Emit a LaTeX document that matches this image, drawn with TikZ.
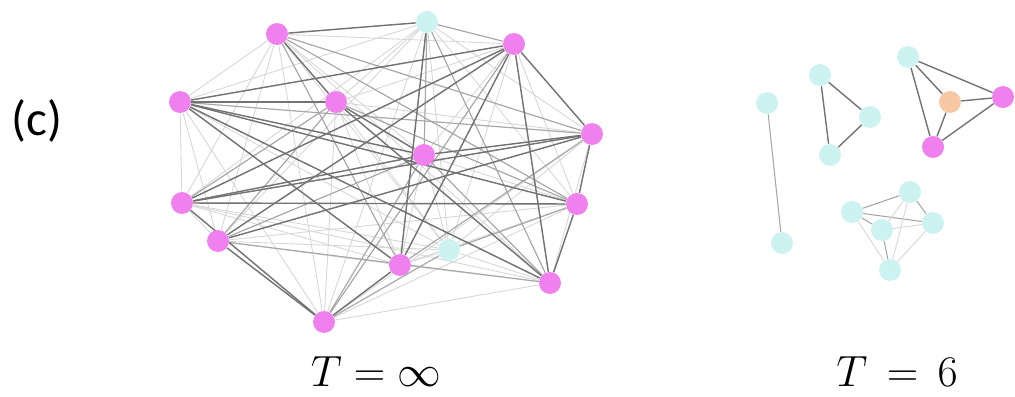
\documentclass[tikz,border=0pt]{standalone}
\usepackage{fontspec}
\newfontfamily\labelfont{Carlito}
\usepackage{tikz}
\usetikzlibrary{backgrounds}

\definecolor{vio}{RGB}{240,128,238}
\definecolor{aqua}{RGB}{204,242,242}
\definecolor{peach}{RGB}{246,200,164}

\tikzset{
  vnode/.style={circle,fill=vio,minimum size=0.44cm,inner sep=0pt},
  cnode/.style={circle,fill=aqua,minimum size=0.44cm,inner sep=0pt},
  onode/.style={circle,fill=peach,minimum size=0.44cm,inner sep=0pt},
  faint/.style={black!16,line width=0.5pt},
  strong/.style={black!55,line width=0.8pt},
  mid/.style={black!35,line width=0.6pt}
}

\begin{document}
\begin{tikzpicture}[x=0.02cm,y=-0.02cm]
  \useasboundingbox (0,0) rectangle (1015,396);
  % Label
  \node (tag) at (37,121) {\labelfont\fontsize{28}{32}\selectfont (c)};
  % Fully connected graph
  \node[vnode] (a) at (277,34) {};
  \node[cnode] (b) at (427,22) {};
  \node[vnode] (c) at (514,44) {};
  \node[vnode] (d) at (180,102) {};
  \node[vnode] (e) at (336,102) {};
  \node[vnode] (f) at (592,134) {};
  \node[vnode] (g) at (424,155) {};
  \node[vnode] (h) at (182,203) {};
  \node[vnode] (i) at (218,241) {};
  \node[vnode] (j) at (577,204) {};
  \node[vnode] (k) at (400,265) {};
  \node[cnode] (l) at (449,250) {};
  \node[vnode] (m) at (550,283) {};
  \node[vnode] (n) at (324,322) {};
  \begin{scope}[on background layer]
    \foreach \u [count=\i] in {a,b,c,d,e,f,g,h,i,j,k,l,m,n}
      \foreach \v [count=\j] in {a,b,c,d,e,f,g,h,i,j,k,l,m,n}
        {\ifnum\j>\i \draw[faint] (\u) -- (\v); \fi}
    \foreach \u/\v in {a/j,a/k,b/m,b/g,c/n,e/i,f/k,g/m,h/e,i/g,n/l,n/g,j/e,d/f,
                       a/f,b/c,l/j,i/m}
      \draw[mid] (\u) -- (\v);
    \foreach \u/\v in {a/b,a/e,d/e,d/g,d/k,d/m,d/j,e/g,e/m,b/k,c/h,c/i,c/d,c/f,
                       c/m,c/k,f/h,f/i,f/j,f/g,h/j,h/g,i/n,k/n,h/n,j/m}
      \draw[strong] (\u) -- (\v);
  \end{scope}
  \node (tinf) at (376,372) {\fontsize{26}{30}\selectfont $T=\infty$};
  % Clusters at T = 6
  \node[cnode] (p1) at (767,103) {};
  \node[cnode] (p2) at (782,243) {};
  \node[cnode] (t1) at (820,75) {};
  \node[cnode] (t2) at (870,117) {};
  \node[cnode] (t3) at (830,155) {};
  \node[cnode] (q1) at (908,57) {};
  \node[onode] (q2) at (950,102) {};
  \node[vnode] (q3) at (1003,97) {};
  \node[vnode] (q4) at (933,147) {};
  \node[cnode] (r1) at (910,192) {};
  \node[cnode] (r2) at (852,212) {};
  \node[cnode] (r3) at (933,223) {};
  \node[cnode] (r4) at (882,230) {};
  \node[cnode] (r5) at (890,270) {};
  \begin{scope}[on background layer]
    \draw[mid] (p1) -- (p2);
    \foreach \u/\v in {t1/t2,t1/t3,t2/t3,q1/q2,q1/q4,q2/q3,q2/q4,q3/q4,q1/q3}
      \draw[strong] (\u) -- (\v);
    \foreach \u/\v in {r1/r2,r2/r3,r1/r3,r2/r4,r4/r5}
      \draw[mid] (\u) -- (\v);
    \foreach \u/\v in {r1/r4,r1/r5,r2/r5,r3/r5,r3/r4}
      \draw[faint] (\u) -- (\v);
  \end{scope}
  \node (tsix) at (897,372) {\fontsize{27}{30}\selectfont $T\,=\,6$};
\end{tikzpicture}
\end{document}
